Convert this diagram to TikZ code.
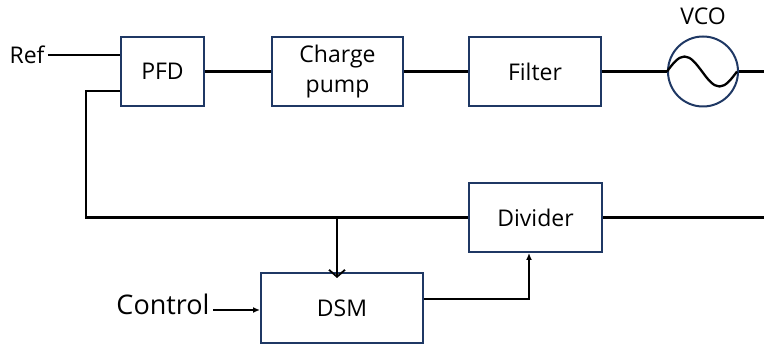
\documentclass[tikz,border=0pt]{standalone}
\usepackage{fontspec}
\setmainfont{Open Sans}
\usetikzlibrary{arrows.meta,calc}
\definecolor{boxnavy}{HTML}{1F3864}

\begin{document}
\begin{tikzpicture}[x=1pt, y=-1pt,
    block/.style={draw=boxnavy, line width=2pt, fill=white,
                  minimum width=#1, minimum height=69pt, inner sep=0pt,
                  align=center, font=\fontsize{23}{30}\selectfont},
    wire/.style={line width=2.3pt, black},
    arr/.style={wire, -{Latex[length=7pt,width=6pt]}},
    barb/.style={wire, -{Straight Barb[length=7pt,width=16pt,line width=1.8pt]}},
    lbl/.style={font=\fontsize{23}{26}\selectfont}
  ]
    \useasboundingbox (0,0) rectangle (764,347);

    % === Forward path ===
    \node[block=83pt]  (pfd)  at (162.5,71.5) {PFD};
    \node[block=131pt] (cp)   at (337.5,71.5) {Charge\\pump};
    \node[block=132pt] (filt) at (535,71.5)   {Filter};
    \node[draw=boxnavy, line width=2pt, circle, minimum size=70pt,
          inner sep=0pt] (vco) at (703,71.5) {};
    \node[lbl] (vcolbl) at (703,16) {VCO};
    \node[lbl] (ref) at (27,55) {Ref};
    \coordinate (vcoout) at (764,71.5);

    \draw[wire] (ref.east) -- (ref.east -| pfd.west);
    \draw[wire] (pfd) -- (cp);
    \draw[wire] (cp) -- (filt);
    \draw[wire] (filt) -- (vco);
    \draw[wire] (vco) -- (vcoout);
    \draw[wire] (vco.west) sin ++(17.5,-15) cos ++(17.5,15)
      sin ++(17.5,15) cos ++(17.5,-15);

    % === Feedback path ===
    \node[block=133pt] (div) at (535.5,217.5) {Divider};
    \node[block=162pt, minimum height=70pt] (dsm) at (342,308) {DSM};
    \node[font=\fontsize{27}{30}\selectfont] (ctrl) at (163,304) {Control};
    \coordinate (tap) at (337,217.5);
    \coordinate (divout) at (764,217.5);

    \draw[wire] (div.west) -| ([xshift=-34pt,yshift=-19.5pt]pfd.west)
      -- ([yshift=-19.5pt]pfd.west);
    \draw[wire] (div) -- (divout);
    \draw[barb] (tap) -- ($(tap |- dsm.north)+(0,6)$);
    \draw[arr] ([yshift=9pt]dsm.east) -| ([xshift=-6.5pt]div.south);
    \draw[arr] ([yshift=-6pt]ctrl.east) -- ([yshift=-6pt]ctrl.east -| dsm.west);
  \end{tikzpicture}
\end{document}
